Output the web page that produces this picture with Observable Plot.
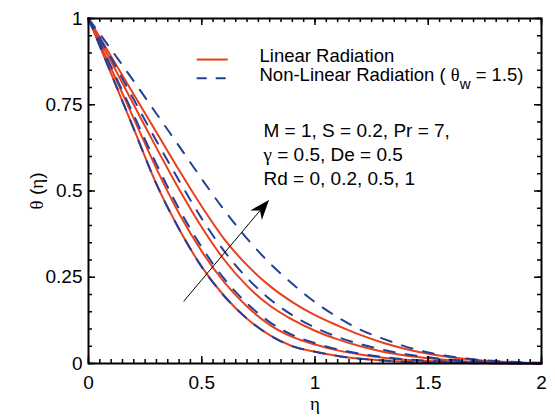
<!DOCTYPE html>
<html><head><meta charset="utf-8">
<script src="https://cdn.jsdelivr.net/npm/d3@7"></script>
<script src="https://cdn.jsdelivr.net/npm/@observablehq/plot@0.6"></script>
<style>body{margin:0;background:#fff} svg{display:block}</style>
</head><body><div id="chart"></div>
<script>
// η grid
const eta = [0,0.1,0.2,0.3,0.4,0.5,0.6,0.7,0.8,0.9,1.0,1.1,1.2,1.3,1.4,1.5,1.6,1.7,1.8,1.9,2.0];
// Linear radiation, Rd = 0, 0.2, 0.5, 1
const linRd0  = [1,0.84,0.68,0.52,0.39,0.28,0.195,0.13,0.082,0.05,0.034,0.022,0.014,0.009,0.005,0.003,0.002,0.001,0.0005,0.0002,0];
const linRd02 = [1,0.855,0.71,0.565,0.435,0.325,0.235,0.165,0.112,0.077,0.055,0.038,0.026,0.017,0.011,0.007,0.004,0.002,0.001,0.0005,0];
const linRd05 = [1,0.875,0.75,0.625,0.505,0.395,0.30,0.225,0.168,0.127,0.095,0.07,0.05,0.034,0.023,0.015,0.009,0.005,0.003,0.001,0];
const linRd1  = [1,0.89,0.78,0.67,0.56,0.455,0.36,0.285,0.225,0.178,0.14,0.11,0.083,0.06,0.042,0.028,0.018,0.011,0.006,0.003,0.001];
// Non-linear radiation (θw = 1.5), Rd = 0, 0.2, 0.5, 1
const nonRd0  = [1,0.84,0.68,0.52,0.39,0.28,0.195,0.13,0.082,0.05,0.034,0.022,0.014,0.009,0.005,0.003,0.002,0.001,0.0005,0.0002,0];
const nonRd02 = [1,0.86,0.72,0.578,0.448,0.337,0.245,0.174,0.12,0.083,0.059,0.041,0.028,0.019,0.012,0.008,0.005,0.003,0.001,0.0005,0];
const nonRd05 = [1,0.885,0.765,0.645,0.53,0.42,0.325,0.248,0.187,0.14,0.104,0.077,0.056,0.04,0.027,0.018,0.011,0.007,0.004,0.002,0.001];
const nonRd1  = [1,0.91,0.818,0.724,0.63,0.535,0.444,0.362,0.291,0.231,0.178,0.134,0.098,0.072,0.049,0.032,0.020,0.012,0.007,0.004,0.002];

const xTicks = [0,0.5,1,1.5,2];
const yTicks = [0,0.25,0.5,0.75,1];
const xMinor = d3.range(0, 2.0001, 0.05);
const yMinor = d3.range(0, 1.0001, 0.05);

const legendLabels = ["Linear Radiation", "Non-Linear Radiation ( θ|w| = 1.5)"];
const annotation = "M = 1, S = 0.2, Pr = 7,\nγ = 0.5, De = 0.5\nRd = 0, 0.2, 0.5, 1";
// arrow (direction of increasing Rd) in data units
const arrowFrom = {eta: 0.42, theta: 0.18};
const arrowTo = {eta: 0.794, theta: 0.472};

const RED = "#e8401c", BLUE = "#22409a";
const W = 555, H = 419, ML = 88, MR = 14, MT = 18, MB = 56;
const innerH = H - MT - MB, innerW = W - ML - MR;

function rows(arr, rd) { return arr.map((t, i) => ({eta: eta[i], theta: t, rd})); }
const linear = [...rows(linRd0,0), ...rows(linRd02,0.2), ...rows(linRd05,0.5), ...rows(linRd1,1)];
const nonlinear = [...rows(nonRd0,0), ...rows(nonRd02,0.2), ...rows(nonRd05,0.5), ...rows(nonRd1,1)];

const chart = Plot.plot({
  width: W, height: H,
  marginLeft: ML, marginRight: MR, marginTop: MT, marginBottom: MB,
  x: {domain: [0, 2]},
  y: {domain: [0, 1]},
  style: {fontFamily: "'Liberation Sans', Arial, sans-serif", fontSize: "19px", background: "white", color: "black"},
  marks: [
    Plot.line(linear, {x: "eta", y: "theta", z: "rd", stroke: RED, strokeWidth: 2, curve: "monotone-x"}),
    Plot.line(nonlinear, {x: "eta", y: "theta", z: "rd", stroke: BLUE, strokeWidth: 2, strokeDasharray: "11,11", curve: "monotone-x"}),
    // inward ticks on all four sides
    Plot.tickX(xTicks, {x: d => d, insetTop: innerH - 7, stroke: "black", strokeWidth: 1.5}),
    Plot.tickX(xTicks, {x: d => d, insetBottom: innerH - 7, stroke: "black", strokeWidth: 1.5}),
    Plot.tickX(xMinor, {x: d => d, insetTop: innerH - 4, stroke: "black", strokeWidth: 1.5}),
    Plot.tickX(xMinor, {x: d => d, insetBottom: innerH - 4, stroke: "black", strokeWidth: 1.5}),
    Plot.tickY(yTicks, {y: d => d, insetRight: innerW - 7, stroke: "black", strokeWidth: 1.5}),
    Plot.tickY(yTicks, {y: d => d, insetLeft: innerW - 7, stroke: "black", strokeWidth: 1.5}),
    Plot.tickY(yMinor, {y: d => d, insetRight: innerW - 4, stroke: "black", strokeWidth: 1.5}),
    Plot.tickY(yMinor, {y: d => d, insetLeft: innerW - 4, stroke: "black", strokeWidth: 1.5}),
    Plot.frame({stroke: "black", strokeWidth: 2}),
    Plot.axisX(xTicks, {tickSize: 0, tickPadding: 12, tickFormat: d => String(d), fontSize: 19, label: null}),
    Plot.axisY(yTicks, {tickSize: 0, tickPadding: 6, tickFormat: d => String(d), fontSize: 19, label: null}),
    Plot.text(["θ (η)"], {frameAnchor: "left", rotate: -90, dx: -52, textAnchor: "middle", lineAnchor: "middle", fontSize: 19}),
    Plot.text(["η"], {frameAnchor: "bottom", dy: 46, lineAnchor: "bottom", textAnchor: "middle", fontSize: 19}),
    // legend
    Plot.ruleY([0.881], {x1: 0.48, x2: 0.617, stroke: RED, strokeWidth: 2}),
    Plot.ruleY([0.827], {x1: 0.48, x2: 0.617, stroke: BLUE, strokeWidth: 2, strokeDasharray: "10,9"}),
    Plot.text([legendLabels[0]], {frameAnchor: "top-left", dx: 171, dy: 43, lineAnchor: "bottom", textAnchor: "start", fontSize: 18.5}),
    Plot.text([legendLabels[1]], {frameAnchor: "top-left", dx: 171, dy: 62.5, lineAnchor: "bottom", textAnchor: "start", fontSize: 18.5}),
    // annotation
    Plot.text([annotation], {frameAnchor: "top-left", dx: 175, dy: 102, lineAnchor: "top", textAnchor: "start", lineHeight: 1.25, fontSize: 19}),
    Plot.link([arrowFrom], {x1: d => d.eta, y1: d => d.theta, x2: () => arrowTo.eta, y2: () => arrowTo.theta, stroke: "black", strokeWidth: 1})
  ]
});
document.getElementById("chart").appendChild(chart);

// post-processing: subscript in legend, serif Greek letters, filled arrowhead
const svgEl = chart.tagName.toLowerCase() === "svg" ? chart : chart.querySelector("svg");
const svg = d3.select(svgEl);
svg.selectAll("text").each(function() {
  const t = this.textContent;
  if (t.includes("|w|")) {
    const parts = t.split("|");
    const sel = d3.select(this);
    sel.text(null);
    sel.append("tspan").text(parts[0]);
    sel.append("tspan").attr("dy", 8).attr("font-size", 15).text(parts[1]);
    sel.append("tspan").attr("dy", -8).text(parts[2]);
  }
});
const greek = /([θηγ])/;
svg.selectAll("text, tspan").filter(function() { return this.children.length === 0 && greek.test(this.textContent); })
  .each(function() {
    const parts = this.textContent.split(greek).filter(p => p);
    const sel = d3.select(this);
    sel.text(null);
    for (const p of parts) {
      const ts = sel.append("tspan").text(p);
      if (greek.test(p)) ts.attr("font-family", "'Liberation Serif', 'DejaVu Serif', serif").attr("font-size", this.getAttribute("font-size") ? null : null);
    }
  });
const defs = svg.insert("defs", ":first-child");
defs.append("marker").attr("id", "ahead").attr("viewBox", "-20 -10 22 20")
  .attr("markerWidth", 22).attr("markerHeight", 20).attr("markerUnits", "userSpaceOnUse")
  .attr("orient", "auto").attr("refX", 0).attr("refY", 0)
  .append("path").attr("d", "M1,0L-19,-7.5L-13,0L-19,7.5Z").attr("fill", "black");
svg.select('g[aria-label="link"] path').attr("marker-end", "url(#ahead)");
</script>
</body></html>
